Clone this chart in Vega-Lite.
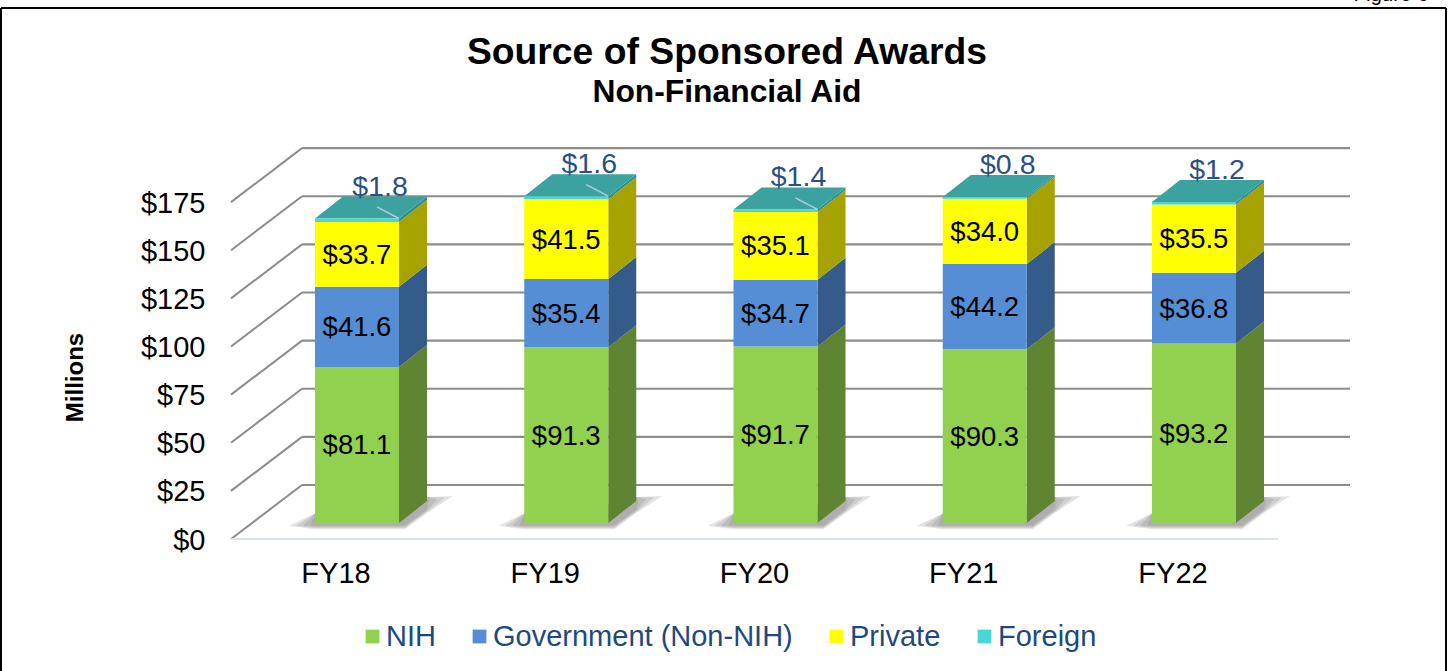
{
"$schema":"https://vega.github.io/schema/vega-lite/v6.json",
"width":1450,"height":556,"autosize":"none",
"padding":{"left":0,"right":0,"top":115,"bottom":0},
"background":"white",
"config":{"font":"Liberation Sans","view":{"stroke":null},"text":{"font":"Liberation Sans"}},
"title":{"text":"Source of Sponsored Awards","subtitle":"Non-Financial Aid","anchor":"middle","dx":2,"offset":-125,"fontSize":37.3,"fontWeight":"bold","color":"#000000","subtitleFontSize":31.8,"subtitleFontWeight":"bold","subtitleColor":"#000000","subtitlePadding":5},
"data":{"values":[
{"year":"FY18","source":"NIH","value":81.1,"order":1},
{"year":"FY18","source":"Government (Non-NIH)","value":41.6,"order":2},
{"year":"FY18","source":"Private","value":33.7,"order":3},
{"year":"FY18","source":"Foreign","value":1.8,"order":4},
{"year":"FY19","source":"NIH","value":91.3,"order":1},
{"year":"FY19","source":"Government (Non-NIH)","value":35.4,"order":2},
{"year":"FY19","source":"Private","value":41.5,"order":3},
{"year":"FY19","source":"Foreign","value":1.6,"order":4},
{"year":"FY20","source":"NIH","value":91.7,"order":1},
{"year":"FY20","source":"Government (Non-NIH)","value":34.7,"order":2},
{"year":"FY20","source":"Private","value":35.1,"order":3},
{"year":"FY20","source":"Foreign","value":1.4,"order":4},
{"year":"FY21","source":"NIH","value":90.3,"order":1},
{"year":"FY21","source":"Government (Non-NIH)","value":44.2,"order":2},
{"year":"FY21","source":"Private","value":34.0,"order":3},
{"year":"FY21","source":"Foreign","value":0.8,"order":4},
{"year":"FY22","source":"NIH","value":93.2,"order":1},
{"year":"FY22","source":"Government (Non-NIH)","value":36.8,"order":2},
{"year":"FY22","source":"Private","value":35.5,"order":3},
{"year":"FY22","source":"Foreign","value":1.2,"order":4}
]},
"transform":[
{"stack":"value","groupby":["year"],"sort":[{"field":"order","order":"ascending"}],"as":["y0","y1"]},
{"calculate":"315+209.25*indexof(['FY18','FY19','FY20','FY21','FY22'],datum.year)","as":"left"},
{"calculate":"datum.left+84","as":"right"},
{"calculate":"datum.left+42","as":"mid"},
{"calculate":"(datum.y0+datum.y1)/2","as":"ymid"}
],
"layer":[
{"data":{"values":[{"a":1,"b":1,"c":-76.88,"d":267.5},{"a":1446,"b":1446,"c":-76.88,"d":267.5},{"a":1,"b":1446,"c":267.5,"d":267.5}]},
 "mark":{"type":"rule","color":"#000000","strokeWidth":2},
 "encoding":{"x":{"field":"a","type":"quantitative","axis":null,"scale":{"domain":[0,1450],"nice":false,"zero":false}},"x2":{"field":"b"},
 "y":{"field":"c","type":"quantitative","axis":{"orient":"left","values":[0,25,50,75,100,125,150,175],"format":"$.0f","domain":false,"ticks":false,"grid":false,"offset":-205,"labelPadding":0,"labelOffset":17,"labelFontSize":29,"labelColor":"#000000","labelFont":"Liberation Sans","title":"Millions","titleFontSize":24,"titleFontWeight":"bold","titleColor":"#000000","titleAngle":-90,"titleX":-130,"titleY":262,"titleAlign":"center","titleBaseline":"middle"},"scale":{"domain":[-76.88,211.95],"nice":false,"zero":false}},"y2":{"field":"d"}}},
{"data":{"values":[{"t":"Figure 6","a":1391,"c":271.2}]},
 "mark":{"type":"text","fontSize":20.5,"baseline":"alphabetic","align":"center","color":"#000000"},
 "encoding":{"x":{"field":"a","type":"quantitative","axis":null,"scale":{"domain":[0,1450],"nice":false,"zero":false}},
 "y":{"field":"c","type":"quantitative","axis":null,"scale":{"domain":[-76.88,211.95],"nice":false,"zero":false}},"text":{"field":"t"}}},
{"data":{"values":[{"tick":0},{"tick":25},{"tick":50},{"tick":75},{"tick":100},{"tick":125},{"tick":150},{"tick":175}]},
 "transform":[{"calculate":"datum.tick+19.74","as":"back"},{"calculate":"302","as":"a"},{"calculate":"1350","as":"b"}],
 "mark":{"type":"rule","color":"#8C8C8C","strokeWidth":2.2},
 "encoding":{"x":{"field":"a","type":"quantitative","axis":null,"scale":{"domain":[0,1450],"nice":false,"zero":false}},"x2":{"field":"b"},
 "y":{"field":"back","type":"quantitative","axis":null,"scale":{"domain":[-76.88,211.95],"nice":false,"zero":false}}}},
{"data":{"values":[{"tick":25},{"tick":50},{"tick":75},{"tick":100},{"tick":125},{"tick":150},{"tick":175},{"tick":0}]},
 "transform":[{"calculate":"datum.tick+19.74","as":"back"},{"calculate":"datum.tick-8.31","as":"front"},{"calculate":"302","as":"a"},{"calculate":"231","as":"b"}],
 "mark":{"type":"rule","color":"#8C8C8C","strokeWidth":2},
 "encoding":{"x":{"field":"a","type":"quantitative","axis":null,"scale":{"domain":[0,1450],"nice":false,"zero":false}},"x2":{"field":"b"},
 "y":{"field":"back","type":"quantitative","axis":null,"scale":{"domain":[-76.88,211.95],"nice":false,"zero":false}},"y2":{"field":"front"}}},
{"data":{"values":[{"a":231,"b":1278,"c":-8.31}]},
 "mark":{"type":"rule","color":"#D9E3F0","strokeWidth":2},
 "encoding":{"x":{"field":"a","type":"quantitative","axis":null,"scale":{"domain":[0,1450],"nice":false,"zero":false}},"x2":{"field":"b"},
 "y":{"field":"c","type":"quantitative","axis":null,"scale":{"domain":[-76.88,211.95],"nice":false,"zero":false}}}},
{"transform":[{"filter":"datum.source==='NIH'"},
 {"calculate":"[0,1,2,3]","as":"s"},{"flatten":["s"]},
 {"calculate":"[0,1,2,3,4]","as":"c"},{"flatten":["c"]},
 {"calculate":"[datum.left-26+7*datum.s,datum.left,datum.right+6,datum.right+28,datum.right+54-8*datum.s][datum.c]","as":"sx"},
 {"calculate":"[-1.4,5,10,13.5,14-datum.s*0.8][datum.c]","as":"sy"},
 {"calculate":"[-1.4,-3.2+datum.s*0.6,-3.2+datum.s*0.6,5.2+datum.s*0.6,14-datum.s*0.8][datum.c]","as":"sy2"}],
 "mark":{"type":"area","color":"#7F7F7F","opacity":0.22,"interpolate":"linear"},
 "encoding":{"x":{"field":"sx","type":"quantitative","axis":null,"scale":{"domain":[0,1450],"nice":false,"zero":false}},
 "y":{"field":"sy","type":"quantitative","axis":null,"stack":null,"scale":{"domain":[-76.88,211.95],"nice":false,"zero":false}},"y2":{"field":"sy2"},
 "detail":[{"field":"year"},{"field":"s"}]}},
{"transform":[{"calculate":"[0,1]","as":"k"},{"flatten":["k"]},
 {"calculate":"datum.right+28*datum.k","as":"sx"},{"calculate":"datum.y0+11.43*datum.k","as":"sy0"},{"calculate":"datum.y1+11.43*datum.k","as":"sy1"}],
 "mark":{"type":"area","interpolate":"linear"},
 "encoding":{"x":{"field":"sx","type":"quantitative","axis":null,"scale":{"domain":[0,1450],"nice":false,"zero":false}},
 "y":{"field":"sy0","type":"quantitative","axis":null,"stack":null,"scale":{"domain":[-76.88,211.95],"nice":false,"zero":false}},"y2":{"field":"sy1"},
 "detail":[{"field":"year"},{"field":"source"}],
 "color":{"field":"source","type":"nominal","legend":null,"scale":{"domain":["NIH","Government (Non-NIH)","Private","Foreign"],"range":["#5F8532","#355B8A","#A6A300","#2F8E8E"]}}}},
{"transform":[{"filter":"datum.source==='Foreign'"},{"calculate":"[0,1,2,3]","as":"c"},{"flatten":["c"]},
 {"calculate":"[datum.left,datum.left+28,datum.right,datum.right+28][datum.c]","as":"sx"},
 {"calculate":"datum.y1+[0,11.43,11.43,11.43][datum.c]","as":"sy"},
 {"calculate":"datum.y1+[0,0,0,11.43][datum.c]","as":"sy2"}],
 "mark":{"type":"area","color":"#3BA2A0","interpolate":"linear"},
 "encoding":{"x":{"field":"sx","type":"quantitative","axis":null,"scale":{"domain":[0,1450],"nice":false,"zero":false}},
 "y":{"field":"sy","type":"quantitative","axis":null,"stack":null,"scale":{"domain":[-76.88,211.95],"nice":false,"zero":false}},"y2":{"field":"sy2"},
 "detail":[{"field":"year"}]}},
{"mark":{"type":"rect"},
 "encoding":{"x":{"field":"left","type":"quantitative","axis":null,"scale":{"domain":[0,1450],"nice":false,"zero":false}},"x2":{"field":"right"},
 "y":{"field":"y0","type":"quantitative","axis":null,"scale":{"domain":[-76.88,211.95],"nice":false,"zero":false}},"y2":{"field":"y1"},
 "color":{"field":"source","type":"nominal","sort":["NIH","Government (Non-NIH)","Private","Foreign"],
 "scale":{"domain":["NIH","Government (Non-NIH)","Private","Foreign"],"range":["#92D050","#558ED5","#FFFF00","#4BD5D5"]},
 "legend":{"title":null,"orient":"none","direction":"horizontal","legendX":358,"legendY":507,"symbolType":"square","symbolSize":190,"symbolStrokeWidth":0,"labelFontSize":29,"labelColor":"#1F497D","labelFont":"Liberation Sans","labelOffset":-1,"columnPadding":29,"gridAlign":"none","labelLimit":400}}}},
{"transform":[{"filter":"datum.source==='Foreign' && indexof(['FY18','FY19','FY20'],datum.year)>=0"},{"calculate":"datum.right-22","as":"lx"},{"calculate":"datum.y1+6","as":"ly"}],
 "mark":{"type":"rule","color":"#B4C7E7","strokeWidth":1.5},
 "encoding":{"x":{"field":"lx","type":"quantitative","axis":null,"scale":{"domain":[0,1450],"nice":false,"zero":false}},"x2":{"field":"right"},
 "y":{"field":"ly","type":"quantitative","axis":null,"scale":{"domain":[-76.88,211.95],"nice":false,"zero":false}},"y2":{"field":"y1"}}},
{"transform":[{"filter":"datum.source!=='Foreign'"}],
 "mark":{"type":"text","fontSize":27.5,"color":"#000000","baseline":"middle","dy":1.5},
 "encoding":{"x":{"field":"mid","type":"quantitative","axis":null,"scale":{"domain":[0,1450],"nice":false,"zero":false}},
 "y":{"field":"ymid","type":"quantitative","axis":null,"scale":{"domain":[-76.88,211.95],"nice":false,"zero":false}},
 "text":{"field":"value","type":"quantitative","format":"$.1f"}}},
{"transform":[{"filter":"datum.source==='Foreign'"},{"calculate":"datum.mid+23","as":"fx"},{"calculate":"datum.y1+16.6","as":"fy"}],
 "mark":{"type":"text","fontSize":28.5,"color":"#2A5085","baseline":"middle"},
 "encoding":{"x":{"field":"fx","type":"quantitative","axis":null,"scale":{"domain":[0,1450],"nice":false,"zero":false}},
 "y":{"field":"fy","type":"quantitative","axis":null,"scale":{"domain":[-76.88,211.95],"nice":false,"zero":false}},
 "text":{"field":"value","type":"quantitative","format":"$.1f"}}},
{"transform":[{"filter":"datum.source==='NIH'"},{"calculate":"datum.mid-21","as":"tx"},{"calculate":"-26.5","as":"ty"}],
 "mark":{"type":"text","fontSize":29,"color":"#000000","baseline":"middle"},
 "encoding":{"x":{"field":"tx","type":"quantitative","axis":null,"scale":{"domain":[0,1450],"nice":false,"zero":false}},
 "y":{"field":"ty","type":"quantitative","axis":null,"scale":{"domain":[-76.88,211.95],"nice":false,"zero":false}},
 "text":{"field":"year"}}}
],
"resolve":{"scale":{"color":"independent"},"axis":{"y":"independent"}}
}
